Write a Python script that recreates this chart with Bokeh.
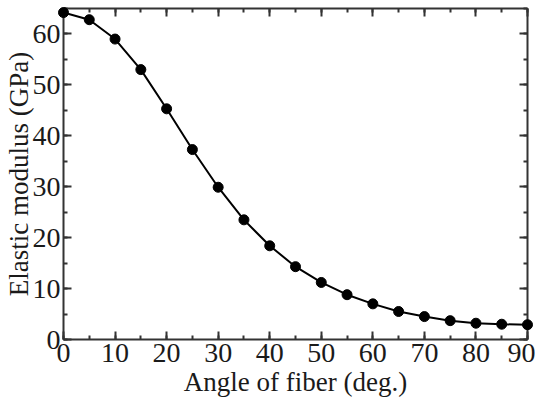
from bokeh.plotting import figure
from bokeh.models import LinearAxis, SingleIntervalTicker, Range1d, CustomJSTickFormatter
from bokeh.embed import file_html
from bokeh.resources import INLINE

angle = [0, 5, 10, 15, 20, 25, 30, 35, 40, 45, 50, 55, 60, 65, 70, 75, 80, 85, 90]
modulus = [64.2, 62.8, 59.0, 53.0, 45.3, 37.3, 29.9, 23.5, 18.4, 14.3, 11.2, 8.8,
           7.0, 5.5, 4.5, 3.7, 3.2, 3.0, 2.9]

x_label = "Angle of fiber (deg.)"
y_label = "Elastic modulus (GPa)"

FONT = "Liberation Serif"
TICK_FS = "28px"
LABEL_FS = "27px"
AX_COLOR = "#333333"

p = figure(frame_width=464, frame_height=331, output_backend="svg", toolbar_location=None,
           x_range=Range1d(0, 90), y_range=Range1d(0, 65),
           min_border_left=58, min_border_right=8, min_border_top=8, min_border_bottom=0,
           x_axis_location=None, y_axis_location=None)
p.outline_line_color = None
p.background_fill_color = "white"
p.border_fill_color = "white"
p.xgrid.visible = False
p.ygrid.visible = False


def style(ax, labels=True):
    ax.axis_line_width = 2
    ax.axis_line_color = AX_COLOR
    ax.major_tick_line_color = AX_COLOR
    ax.minor_tick_line_color = AX_COLOR
    ax.major_tick_line_width = 2
    ax.minor_tick_line_width = 2
    ax.major_tick_in = 8
    ax.major_tick_out = 0
    ax.minor_tick_in = 4
    ax.minor_tick_out = 0
    ax.major_label_text_font = FONT
    ax.major_label_text_color = "#1a1a1a"
    ax.axis_label_text_font = FONT
    ax.axis_label_text_font_style = "normal"
    ax.axis_label_text_color = "#1a1a1a"
    if labels:
        ax.major_label_text_font_size = TICK_FS
        ax.axis_label_text_font_size = LABEL_FS
    else:
        ax.formatter = CustomJSTickFormatter(code="return '';")
        ax.major_label_text_font_size = "1px"
        ax.major_label_text_color = None
        ax.major_label_standoff = 0
        ax.axis_label = None


xb = LinearAxis(ticker=SingleIntervalTicker(interval=10, num_minor_ticks=2), axis_label=x_label)
style(xb)
xb.major_label_standoff = 4
xb.axis_label_standoff = 2
p.add_layout(xb, "below")

yl = LinearAxis(ticker=SingleIntervalTicker(interval=10, num_minor_ticks=2), axis_label=y_label)
style(yl)
yl.major_label_standoff = 3
yl.axis_label_standoff = -4
p.add_layout(yl, "left")

xa = LinearAxis(ticker=SingleIntervalTicker(interval=10, num_minor_ticks=2))
style(xa, labels=False)
p.add_layout(xa, "above")

yr = LinearAxis(ticker=SingleIntervalTicker(interval=10, num_minor_ticks=2))
style(yr, labels=False)
p.add_layout(yr, "right")

p.line(angle, modulus, line_color="black", line_width=2, level="overlay")
p.scatter(angle, modulus, size=10, fill_color="black", line_color="black", level="overlay")

open("out.html", "w").write(file_html(p, INLINE))
